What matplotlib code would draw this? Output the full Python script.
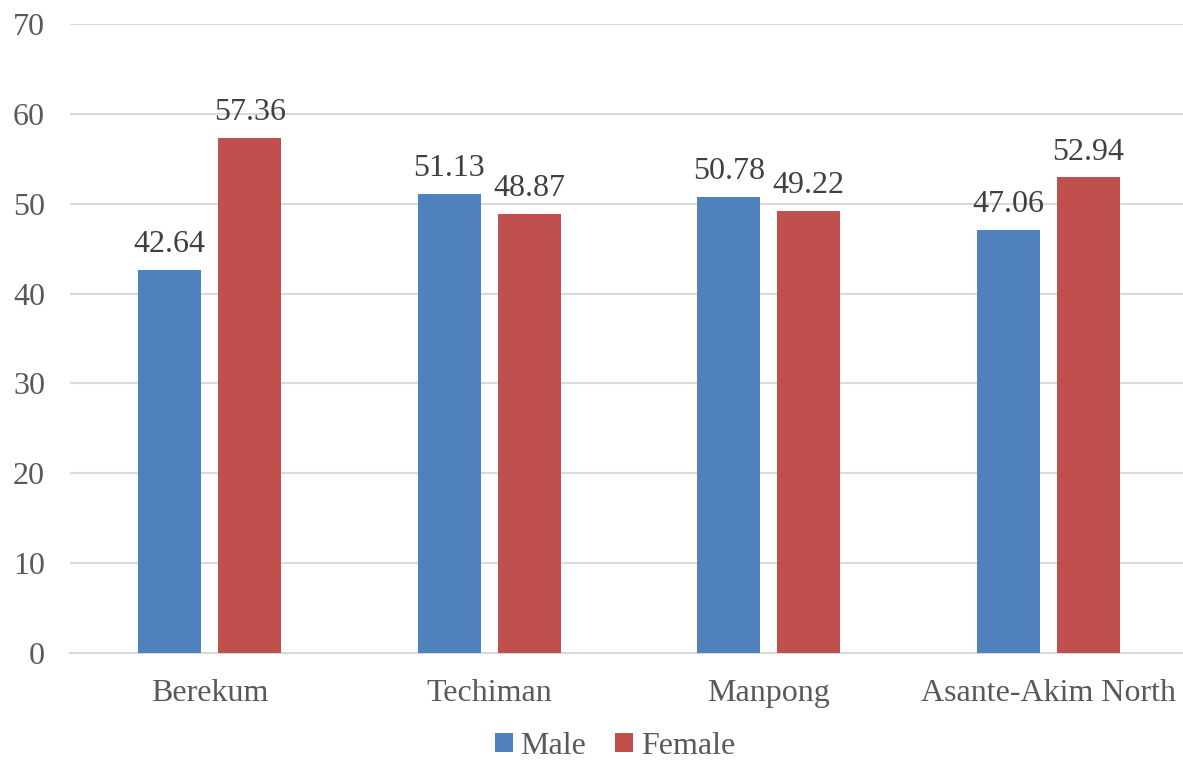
import matplotlib
matplotlib.use("Agg")
import matplotlib.pyplot as plt
import numpy as np

categories = ["Berekum", "Techiman", "Manpong", "Asante-Akim North"]
male = [42.64, 51.13, 50.78, 47.06]
female = [57.36, 48.87, 49.22, 52.94]
yticks = [0, 10, 20, 30, 40, 50, 60, 70]

plt.rcParams["font.family"] = ["Liberation Serif", "DejaVu Serif"]
text_color = "#595959"
blue = "#4F81BD"
red = "#C0504D"

fig = plt.figure(figsize=(11.83, 7.60), dpi=100)
ax = fig.add_axes([70 / 1183, 107 / 760, 1118 / 1183, 629 / 760])

x = np.arange(len(categories))
w = 0.225
off = 0.143
b1 = ax.bar(x - off, male, w, color=blue, label="Male", zorder=3)
b2 = ax.bar(x + off, female, w, color=red, label="Female", zorder=3)

for bars, vals in ((b1, male), (b2, female)):
    for rect, v in zip(bars, vals):
        ax.text(rect.get_x() + rect.get_width() / 2, v + 1.2, f"{v:.2f}",
                ha="center", va="bottom", fontsize=23, color="#404040")

ax.set_xlim(-0.5, len(categories) - 0.5)
ax.set_ylim(0, 70)
ax.set_yticks(yticks)
ax.yaxis.grid(True, color="#D9D9D9", linewidth=1.5, zorder=0)
ax.set_axisbelow(True)
for s in ("top", "right", "left"):
    ax.spines[s].set_visible(False)
ax.spines["bottom"].set_color("#D9D9D9")
ax.spines["bottom"].set_linewidth(1.5)
ax.tick_params(axis="both", length=0, labelsize=23, colors=text_color)
ax.tick_params(axis="y", pad=18)
ax.tick_params(axis="x", pad=19)
ax.set_xticks(x)
ax.set_xticklabels(categories)

leg = fig.legend(loc="center", bbox_to_anchor=(615 / 1183, 1 - 746 / 760), ncol=2,
                 frameon=False, fontsize=23, handlelength=0.55, handleheight=0.55,
                 handletextpad=0.25, columnspacing=0.9, borderaxespad=0, borderpad=0)
for t in leg.get_texts():
    t.set_color(text_color)

fig.savefig("out.png", dpi=100)
